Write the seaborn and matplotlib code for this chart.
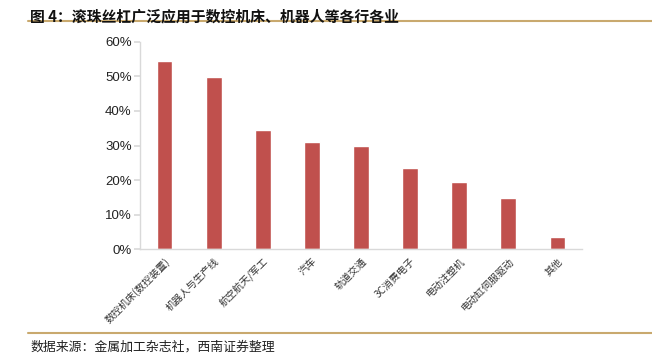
import matplotlib
matplotlib.use("Agg")
import matplotlib.pyplot as plt
import seaborn as sns
import pandas as pd
from matplotlib.ticker import PercentFormatter, MultipleLocator
from matplotlib.lines import Line2D

categories = ["数控机床(数控装置)", "机器人与生产线", "航空航天/军工", "汽车", "轨道交通",
              "3C消费电子", "电动注塑机", "电动缸伺服驱动", "其他"]
values = [54.4, 49.8, 34.5, 31.0, 29.8, 23.4, 19.5, 14.8, 3.4]

title = "图 4：滚珠丝杠广泛应用于数控机床、机器人等各行各业"
source = "数据来源：金属加工杂志社，西南证券整理"

sns.set_theme(style="white")
plt.rcParams['font.family'] = ['Liberation Sans', 'Noto Sans CJK SC', 'DejaVu Sans']

df = pd.DataFrame({"cat": categories, "val": values})

fig = plt.figure(figsize=(6.52, 3.61), dpi=100)
ax = fig.add_axes([0.2147, 0.3102, 0.6779, 0.5735])
sns.barplot(data=df, x="cat", y="val", color="#C0504D", saturation=1, width=0.32, ax=ax)

ax.set_ylim(0, 60)
ax.yaxis.set_major_locator(MultipleLocator(10))
ax.yaxis.set_major_formatter(PercentFormatter(decimals=0))
ax.set_xlim(-0.5, len(categories) - 0.5)
ax.set_xlabel("")
ax.set_ylabel("")
for s in ["top", "right"]:
    ax.spines[s].set_visible(False)
for s in ["left", "bottom"]:
    ax.spines[s].set_color("#D9D9D9")
    ax.spines[s].set_linewidth(1.0)
ax.tick_params(axis="y", left=True, length=4, color="#D9D9D9", labelsize=9.5, pad=2, labelcolor="#222222")
ax.tick_params(axis="x", bottom=False, length=0, pad=5)
ax.set_xticks(range(len(categories)))
ax.set_xticklabels(categories, rotation=45, ha="right", rotation_mode="anchor",
                   fontsize=7.2, color="#333333", family=['Noto Sans CJK SC', 'DejaVu Sans'])

fig.text(0.046, 0.977, title, fontsize=10.7, fontweight="bold", va="top", ha="left",
         family=['Noto Sans CJK SC', 'DejaVu Sans'], color="#111111")
fig.add_artist(Line2D([0.043, 1.0], [1 - 21/361, 1 - 21/361], transform=fig.transFigure,
                      color="#C9A96E", linewidth=1.5))
fig.add_artist(Line2D([0.043, 1.0], [1 - 333/361, 1 - 333/361], transform=fig.transFigure,
                      color="#C9A96E", linewidth=1.5))
fig.text(0.046, 1 - 347/361, source, fontsize=9.3, va="center", ha="left", style="italic",
         family=['Noto Sans CJK SC', 'DejaVu Sans'], color="#222222")

fig.savefig("out.png", dpi=100)
